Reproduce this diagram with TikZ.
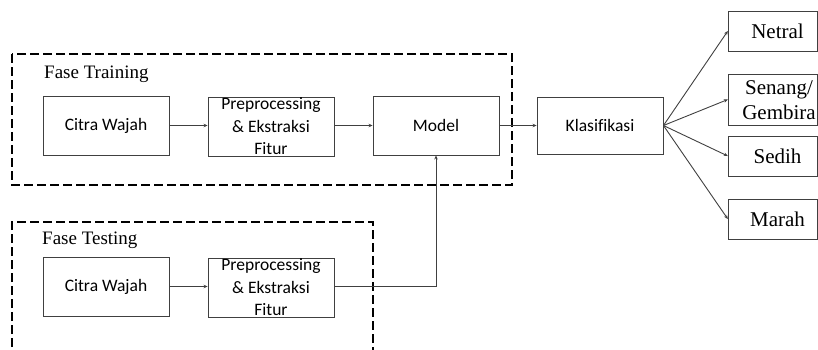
\documentclass[tikz,border=0pt]{standalone}
\usepackage{fontspec}
\setmainfont{Liberation Serif}
\newfontfamily\sansf[Ligatures=NoCommon]{Carlito}
\usetikzlibrary{arrows.meta}
\begin{document}
\begin{tikzpicture}[x=1pt,y=-1pt,
  box/.style={draw=black!75, line width=0.9pt, minimum width=126pt, minimum height=59pt,
    inner sep=0pt, align=center, font=\sansf\fontsize{17.5}{22.5}\selectfont},
  outbox/.style={draw=black!75, line width=0.9pt, minimum width=89pt, minimum height=40pt,
    inner sep=0pt},
  outtext/.style={inner sep=0pt, align=center, font=\fontsize{21}{25}\selectfont},
  phase/.style={draw=black, line width=2.6pt, dash pattern=on 9pt off 4pt},
  title/.style={anchor=west, inner sep=0pt, font=\fontsize{19}{22}\selectfont},
  conn/.style={draw=black!75, line width=0.9pt, -{Stealth[length=4pt,width=3.5pt]}}]
\useasboundingbox (0,0) rectangle (818,349);
\clip (0,0) rectangle (818,349);
% dashed phase frames
\draw[phase] (12,54) rectangle (512,185);
\draw[phase] (12,360) -- (12,222) -- (373,222) -- (373,360);
\node[title] (tt) at (44,74) {Fase Training};
\node[title] (ts) at (42,240) {Fase Testing};
% training row
\node[box] (c1) at (106,125.5) {Citra Wajah};
\node[box] (p1) at (271,126.5) {Preprocessing\\\& Ekstraksi\\Fitur};
\node[box] (m) at (436,125.5) {Model};
\node[box, minimum height=57pt] (k) at (600,125.5) {Klasifikasi};
% testing row
\node[box] (c2) at (106,286.5) {Citra Wajah};
\node[box] (p2) at (271,287.5) {Preprocessing\\\& Ekstraksi\\Fitur};
% outputs
\node[outbox] (o1) at (772.75,31) {};
\node[outbox, minimum height=51pt] (o2) at (772.75,99.5) {};
\node[outbox] (o3) at (772.75,156) {};
\node[outbox] (o4) at (772.75,219) {};
\node[outtext] (t1) at (777.5,31) {Netral};
\node[outtext] (t2) at (779,100) {Senang/\\Gembira};
\node[outtext] (t3) at (777.5,156) {Sedih};
\node[outtext] (t4) at (777.5,219) {Marah};
% connectors
\draw[conn] (c1) -- (p1.west |- c1);
\draw[conn] (p1.east |- m) -- (m);
\draw[conn] (m) -- (k);
\draw[conn] (c2) -- (p2.west |- c2);
\draw[conn] (p2.east |- c2) -| (m.south);
\foreach \o in {o1,o2,o3,o4}
  \draw[conn] (k.east) -- (\o.west);
\end{tikzpicture}
\end{document}
